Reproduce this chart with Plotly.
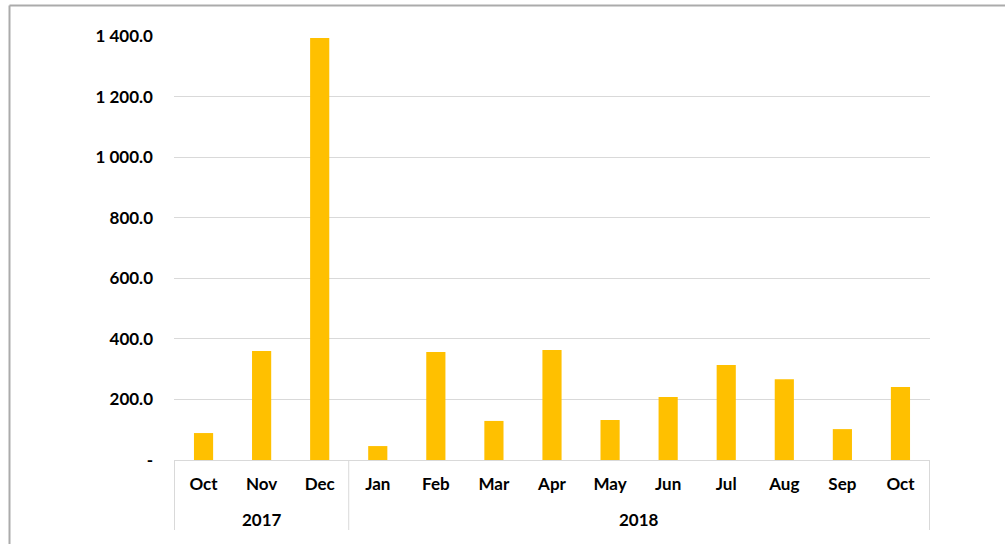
import plotly.graph_objects as go

years = ["2017", "2017", "2017"] + ["2018"] * 10
months = ["Oct", "Nov", "Dec", "Jan", "Feb", "Mar", "Apr", "May", "Jun", "Jul", "Aug", "Sep", "Oct"]
values = [89, 360, 1393, 46, 357, 129, 363, 132, 208, 314, 267, 102, 241]

y_tickvals = [0, 200, 400, 600, 800, 1000, 1200, 1400]
y_ticktext = ["-", "200.0", "400.0", "600.0", "800.0", "1 000.0", "1 200.0", "1 400.0"]

W, H = 1005, 544
L, R, T, B = 174, 75, 36, 84
pw, ph = W - L - R, H - T - B

def px_x(x):
    return (x - L) / pw

def px_y(y):
    return (H - B - y) / ph

keys = [f"{y}-{m}" for y, m in zip(years, months)]

fig = go.Figure(go.Bar(
    x=keys,
    y=values,
    marker=dict(color="#FFC000", line=dict(width=0)),
    hoverinfo="skip",
))

bold = dict(family="Lato", size=17, color="#000000", weight="bold")

annotations = []
shapes = []
group_names = []
for y in years:
    if y not in group_names:
        group_names.append(y)
bounds = [-0.5]
for g in group_names:
    pos = [i for i, y in enumerate(years) if y == g]
    center = (pos[0] + pos[-1]) / 2
    annotations.append(dict(x=center, xref="x", y=px_y(519), yref="paper",
                            text=g, showarrow=False, font=bold,
                            xanchor="center", yanchor="middle"))
    bounds.append(pos[-1] + 0.5)
for b in bounds:
    shapes.append(dict(type="line", xref="x", yref="paper",
                       x0=b, x1=b, y0=0, y1=px_y(530),
                       line=dict(color="#D9D9D9", width=1)))

shapes += [
    dict(type="line", xref="paper", yref="paper",
         x0=px_x(9.5), x1=px_x(9.5), y0=px_y(5.5), y1=px_y(600),
         line=dict(color="#ABABAB", width=2)),
    dict(type="line", xref="paper", yref="paper",
         x0=px_x(9.5), x1=px_x(1100), y0=px_y(5.5), y1=px_y(5.5),
         line=dict(color="#ABABAB", width=2)),
]

fig.update_layout(
    width=W, height=H,
    margin=dict(l=L, r=R, t=T, b=B, pad=0),
    paper_bgcolor="white", plot_bgcolor="white",
    bargap=0.67,
    showlegend=False,
    font=dict(family="Lato", size=17, color="#000000"),
    xaxis=dict(
        type="category",
        tickvals=keys, ticktext=months,
        showgrid=False,
        showline=True, linecolor="#D9D9D9", linewidth=1,
        tickfont=bold,
        ticks="",
        ticklabelstandoff=9,
    ),
    yaxis=dict(
        range=[0, 1400],
        tickvals=y_tickvals, ticktext=y_ticktext,
        showgrid=True, gridcolor="#D9D9D9", gridwidth=1,
        zeroline=False, showline=False, ticks="",
        tickfont=bold,
        ticklabelstandoff=20,
    ),
    annotations=annotations,
    shapes=shapes,
)

fig.write_html("out.html", config={"displayModeBar": False},
               post_script="document.body.style.margin='0';")
